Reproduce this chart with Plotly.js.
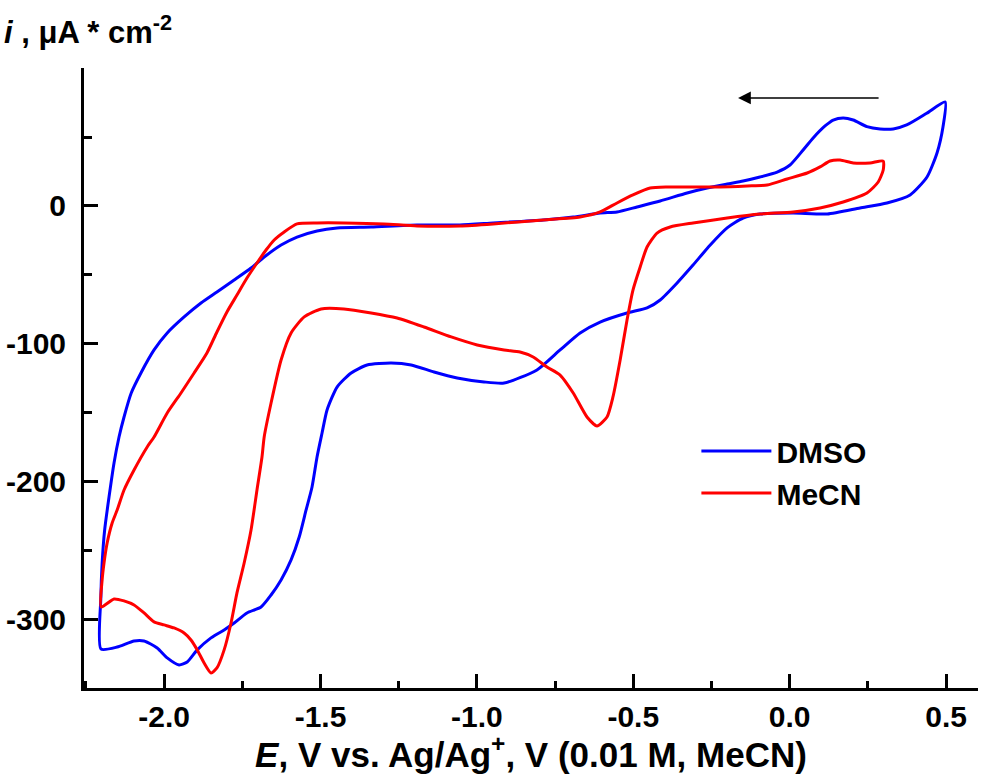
<!DOCTYPE html>
<html>
<head>
<meta charset="utf-8">
<script src="https://cdn.plot.ly/plotly-3.0.1.min.js"></script>
<style>html,body{margin:0;padding:0;background:#fff;}#chart{width:993px;height:774px;}</style>
</head>
<body>
<div id="chart"></div>
<script>
// ---- data (E in V, i in µA cm^-2) ----
const seriesNames = ['DMSO', 'MeCN'];

const dmsoE = [0.497,0.438,0.374,0.331,0.289,0.247,0.203,0.171,0.139,0.113,0.075,0.043,0.001,-0.040,-0.095,-0.149,-0.200,-0.264,-0.328,-0.414,-0.488,-0.552,-0.606,-0.692,-0.788,-0.948,-1.054,-1.191,-1.338,-1.447,-1.511,-1.575,-1.626,-1.680,-1.722,-1.776,-1.831,-1.882,-1.936,-1.990,-2.032,-2.074,-2.105,-2.128,-2.144,-2.160,-2.176,-2.190,-2.198,-2.202,-2.202,-2.150,-2.096,-2.064,-2.022,-1.990,-1.952,-1.926,-1.894,-1.850,-1.808,-1.776,-1.735,-1.690,-1.658,-1.626,-1.594,-1.568,-1.546,-1.527,-1.511,-1.495,-1.479,-1.447,-1.402,-1.351,-1.274,-1.210,-1.137,-1.063,-0.977,-0.913,-0.808,-0.734,-0.670,-0.606,-0.520,-0.456,-0.414,-0.360,-0.309,-0.254,-0.200,-0.149,-0.095,0.011,0.120,0.225,0.311,0.385,0.439,0.471,0.490,0.497];
const dmsoI = [75.4,67.2,58.7,55.8,55.8,57.5,62.3,63.8,62.3,58.0,49.3,40.6,29.7,24.6,21.0,18.1,15.9,13.0,9.4,3.6,-0.7,-4.3,-5.1,-8.0,-10.1,-12.3,-13.8,-13.8,-15.2,-15.9,-18.1,-22.5,-28.3,-37.0,-44.9,-53.6,-62.3,-70.3,-80.4,-92.0,-104.3,-121.0,-135.5,-152.9,-167.4,-186.2,-210.9,-234.8,-258.7,-283.3,-321.0,-319.6,-315.2,-315.2,-320.3,-327.5,-332.6,-330.4,-321.7,-313.0,-307.2,-302.2,-294.9,-290.6,-281.9,-271.0,-256.5,-239.9,-220.3,-203.6,-181.9,-164.5,-147.8,-131.2,-121.0,-115.2,-113.8,-115.2,-120.3,-124.6,-127.5,-128.3,-118.8,-104.3,-92.0,-84.1,-77.5,-73.9,-68.1,-55.8,-42.8,-28.3,-15.9,-8.7,-5.8,-5.1,-5.8,-1.4,2.2,8.0,21.0,38.4,57.2,75.4];

const mecnE = [0.299,0.257,0.203,0.161,0.129,0.097,0.056,-0.008,-0.072,-0.136,-0.222,-0.309,-0.392,-0.446,-0.501,-0.552,-0.606,-0.670,-0.788,-0.948,-1.054,-1.191,-1.297,-1.425,-1.511,-1.575,-1.616,-1.648,-1.674,-1.703,-1.735,-1.767,-1.799,-1.831,-1.863,-1.904,-1.946,-1.990,-2.032,-2.054,-2.096,-2.128,-2.150,-2.166,-2.182,-2.192,-2.198,-2.201,-2.160,-2.128,-2.096,-2.064,-2.032,-2.000,-1.968,-1.936,-1.914,-1.894,-1.872,-1.850,-1.831,-1.808,-1.786,-1.767,-1.744,-1.722,-1.703,-1.687,-1.680,-1.658,-1.626,-1.594,-1.552,-1.498,-1.425,-1.338,-1.255,-1.169,-1.082,-0.999,-0.913,-0.862,-0.820,-0.776,-0.734,-0.692,-0.648,-0.616,-0.584,-0.565,-0.542,-0.520,-0.501,-0.478,-0.456,-0.424,-0.382,-0.309,-0.200,-0.095,0.011,0.097,0.171,0.247,0.283,0.299,0.299];
const mecnI = [32.6,31.2,31.2,33.3,32.6,28.3,23.9,19.6,15.2,14.5,13.8,13.8,13.8,13.0,8.0,2.2,-4.3,-8.0,-10.1,-13.0,-14.5,-14.5,-13.0,-12.3,-12.3,-13.0,-18.8,-24.6,-31.9,-41.3,-52.2,-64.5,-76.8,-91.3,-106.5,-121.0,-135.5,-150.0,-167.4,-174.6,-191.3,-205.8,-220.3,-229.7,-244.2,-258.7,-271.0,-290.6,-284.8,-286.2,-289.1,-294.9,-301.4,-303.6,-305.8,-309.4,-314.5,-321.7,-331.2,-338.4,-334.8,-321.7,-302.2,-280.4,-258.7,-234.8,-205.8,-181.9,-167.4,-142.8,-111.6,-92.0,-80.4,-74.6,-74.6,-77.5,-81.2,-87.7,-94.9,-100.7,-104.3,-105.8,-109.4,-116.7,-122.5,-135.5,-152.9,-159.4,-152.9,-138.4,-111.6,-82.6,-60.9,-44.2,-29.7,-19.6,-15.2,-12.3,-8.7,-5.8,-4.3,-1.4,2.9,9.4,17.4,26.1,32.6];

const xTickVals = [-2.0, -1.5, -1.0, -0.5, 0.0, 0.5];
const xTickText = ['-2.0', '-1.5', '-1.0', '-0.5', '0.0', '0.5'];
const yTickVals = [-300, -200, -100, 0];
const yTickText = ['-300', '-200', '-100', '0'];

const xTitle = '<i>E</i>, V vs. Ag/Ag<sup>+</sup>, V (0.01 M, MeCN)';
const yTitle = '<i>i</i> , μA * cm<sup>-2</sup>';

// ---- chart ----
const FONT = 'Liberation Sans, Arial, Helvetica, sans-serif';

const traces = [
  {x: dmsoE, y: dmsoI, name: seriesNames[0], type: 'scatter', mode: 'lines',
   line: {color: '#0000ff', width: 3, shape: 'spline', smoothing: 0.6}},
  {x: mecnE, y: mecnI, name: seriesNames[1], type: 'scatter', mode: 'lines',
   line: {color: '#ff0000', width: 3, shape: 'spline', smoothing: 0.6}}
];

const axisCommon = {
  showgrid: false, zeroline: false, showline: true, linecolor: '#000', linewidth: 3,
  ticks: 'inside', tickcolor: '#000', tickwidth: 3, ticklen: 14,
  tickfont: {family: FONT, size: 30, color: '#000', weight: 'bold'},
  tickmode: 'array', mirror: false, fixedrange: true
};

const layout = {
  width: 993, height: 774,
  margin: {l: 84, r: 15, t: 68, b: 86, pad: 0},
  paper_bgcolor: '#fff', plot_bgcolor: '#fff',
  font: {family: FONT, color: '#000'},
  xaxis: Object.assign({}, axisCommon, {
    range: [-2.256, 0.602],
    tickvals: xTickVals, ticktext: xTickText,
    minor: {dtick: 0.25, tick0: 0, ticks: 'inside', ticklen: 7, tickwidth: 3, tickcolor: '#000', showgrid: false},
    title: {text: xTitle, font: {family: FONT, size: 35, color: '#000', weight: 'bold'}, standoff: 0}
  }),
  yaxis: Object.assign({}, axisCommon, {
    range: [-349.3, 100],
    tickvals: yTickVals, ticktext: yTickText,
    ticklabelstandoff: 9,
    minor: {dtick: 50, tick0: 0, ticks: 'inside', ticklen: 8, tickwidth: 3, tickcolor: '#000', showgrid: false}
  }),
  showlegend: true,
  legend: {
    x: 0.685, y: 0.424, xanchor: 'left', yanchor: 'top',
    bgcolor: 'rgba(0,0,0,0)', borderwidth: 0,
    itemwidth: 70,
    font: {family: FONT, size: 30, color: '#000', weight: 'bold'},
    tracegroupgap: 0
  },
  annotations: [
    {xref: 'paper', yref: 'paper', x: -0.092, y: 1.062, xanchor: 'left', yanchor: 'middle',
     text: yTitle, showarrow: false,
     font: {family: FONT, size: 31, color: '#000', weight: 'bold'}},
    {xref: 'x', yref: 'y', axref: 'x', ayref: 'y', x: -0.165, y: 78.3, ax: 0.289, ay: 78.3,
     text: '', showarrow: true, arrowhead: 2, arrowsize: 1.7, arrowwidth: 1.5, arrowcolor: '#000'}
  ]
};

Plotly.newPlot('chart', traces, layout, {staticPlot: true, displayModeBar: false});
</script>
</body>
</html>
